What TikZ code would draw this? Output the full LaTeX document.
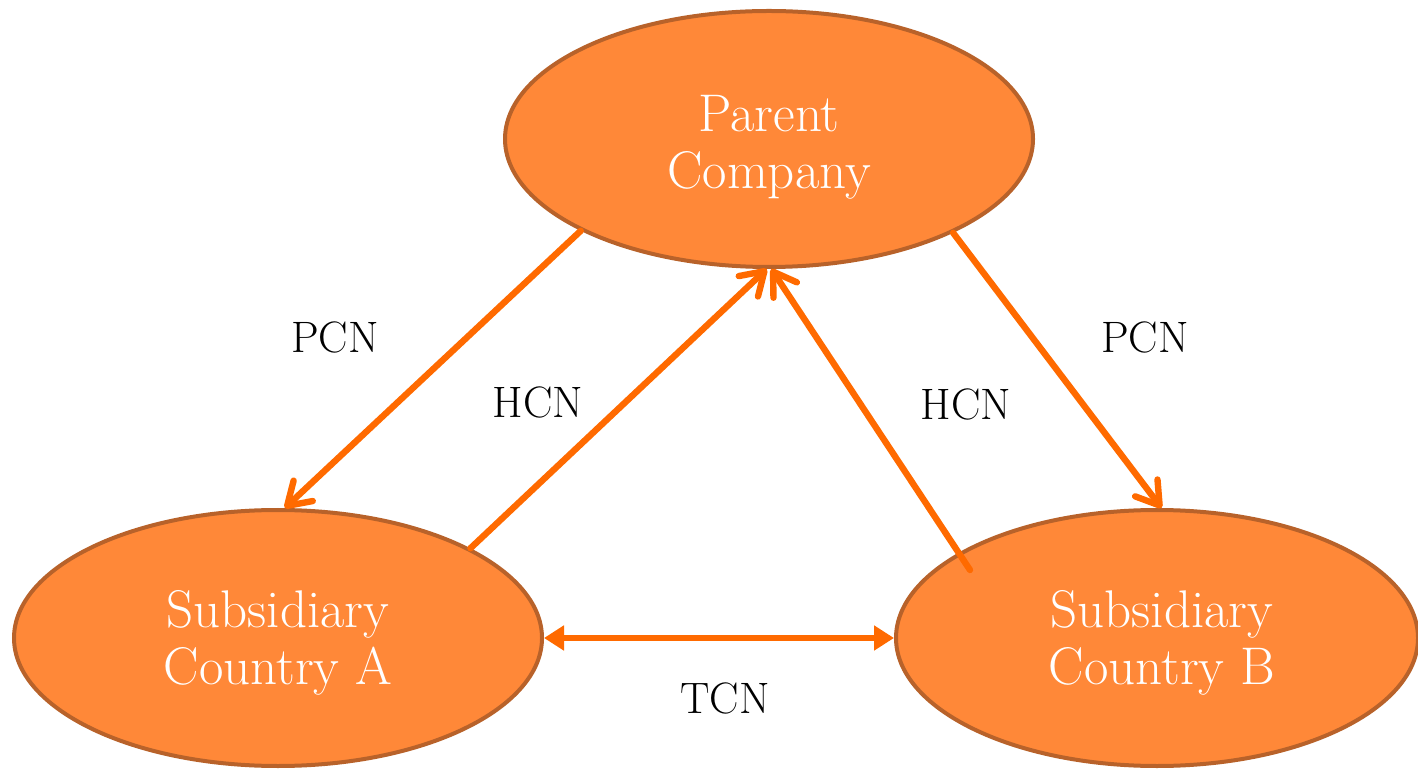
\documentclass[tikz,border=0pt]{standalone}
\usetikzlibrary{arrows.meta,shapes.geometric}
\definecolor{nodefill}{HTML}{FF8838}
\definecolor{nodeedge}{HTML}{B8622A}
\definecolor{arrowc}{HTML}{FF6A00}
\begin{document}
\begin{tikzpicture}[x=0.5pt,y=-0.5pt,
  entity/.style={ellipse,draw=nodeedge,fill=nodefill,line width=2pt,
    minimum width=264pt,minimum height=128pt,inner sep=0pt},
  etext/.style={text=white,align=center,font=\fontsize{26.5}{28.5}\selectfont},
  flow/.style={draw=arrowc,line width=3.2pt,line cap=round,
    -{Straight Barb[length=11pt,width=14pt,round]}},
  twoway/.style={draw=arrowc,line width=3.4pt,
    {Triangle[length=10pt,width=12pt]}-{Triangle[length=10pt,width=12pt]}},
  lbl/.style={text=black,font=\fontsize{22}{24}\selectfont}]
\useasboundingbox (0,0) rectangle (1418,769);
\node[entity,label={[etext,yshift=-4pt]center:Parent\\Company}] (P) at (769,139) {};
\node[entity,label={[etext,yshift=-2.5pt]center:Subsidiary\\Country A}] (A) at (278,638) {};
\node[entity,minimum width=261pt,label={[etext,yshift=-2.5pt,xshift=2.5pt]center:Subsidiary\\Country B}] (B) at (1157,638) {};
\coordinate (hb) at (970,570);
\draw[flow] (P.206.4) -- (A.87.8);
\draw[flow] (A.25.5) -- (P.269.6);
\draw[flow] (hb) -- (P.271.7);
\draw[flow] (P.333.8) -- (B.88.7);
\draw[twoway] (A.east) -- (B.west);
\node[lbl] (l1) at (335,337) {PCN};
\node[lbl] (l2) at (538,402) {HCN};
\node[lbl] (l3) at (966,404) {HCN};
\node[lbl] (l4) at (1145,337) {PCN};
\node[lbl] (l5) at (725,698) {TCN};
\end{tikzpicture}
\end{document}
